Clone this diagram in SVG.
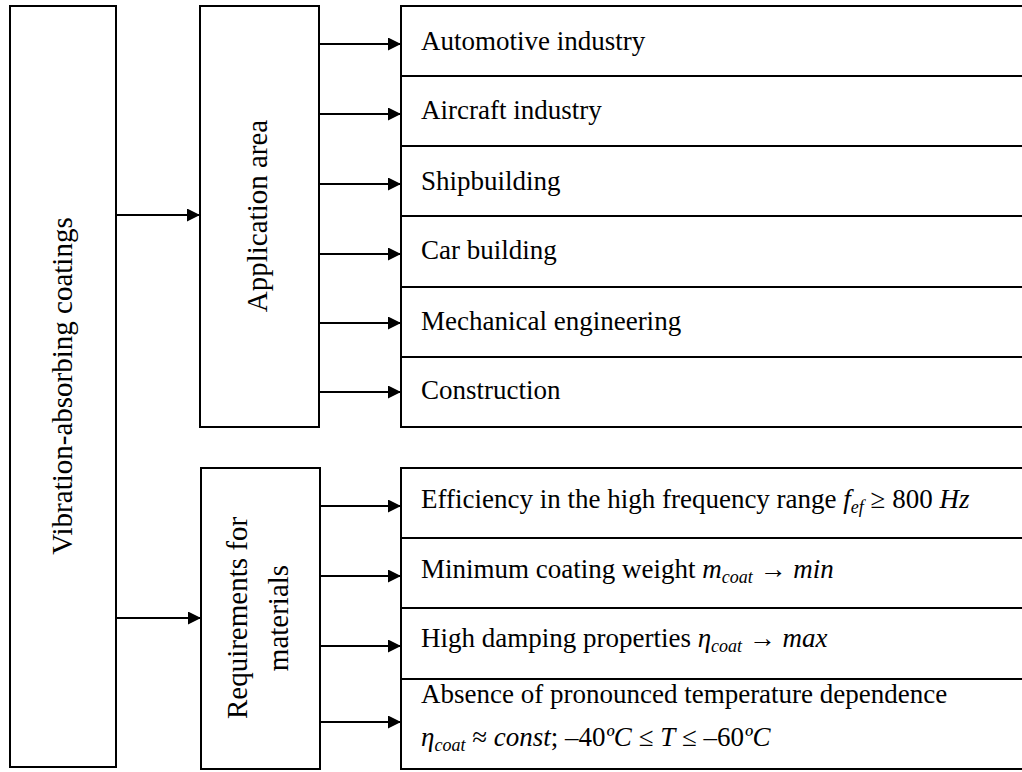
<svg xmlns="http://www.w3.org/2000/svg" width="1022" height="772" viewBox="0 0 1022 772">
<style>
.box{fill:#fff;stroke:#000;stroke-width:2}
.t{font-family:"Liberation Serif","Times New Roman",serif;font-size:27px;fill:#000}
.v{font-family:"Liberation Serif","Times New Roman",serif;font-size:29px;fill:#000;text-anchor:middle}
.i{font-style:italic}
.s{font-size:18px;font-style:italic}
.c{stroke:#000;stroke-width:2;fill:none}
</style>
<defs>
<marker id="ah" viewBox="0 0 13 13" refX="13" refY="6.5" markerWidth="13" markerHeight="13" markerUnits="userSpaceOnUse" orient="auto">
<path d="M0,0 L13,6.5 L0,13 z" fill="#000"/>
</marker>
</defs>
<g id="connectors">
<line class="c" x1="116" y1="215" x2="200" y2="215" marker-end="url(#ah)"/>
<line class="c" x1="116" y1="618" x2="201" y2="618" marker-end="url(#ah)"/>
<line class="c" x1="319" y1="44" x2="401" y2="44" marker-end="url(#ah)"/>
<line class="c" x1="319" y1="114" x2="401" y2="114" marker-end="url(#ah)"/>
<line class="c" x1="319" y1="184" x2="401" y2="184" marker-end="url(#ah)"/>
<line class="c" x1="319" y1="254" x2="401" y2="254" marker-end="url(#ah)"/>
<line class="c" x1="319" y1="323" x2="401" y2="323" marker-end="url(#ah)"/>
<line class="c" x1="319" y1="392" x2="401" y2="392" marker-end="url(#ah)"/>
<line class="c" x1="320" y1="506" x2="401" y2="506" marker-end="url(#ah)"/>
<line class="c" x1="320" y1="576" x2="401" y2="576" marker-end="url(#ah)"/>
<line class="c" x1="320" y1="646" x2="401" y2="646" marker-end="url(#ah)"/>
<line class="c" x1="320" y1="722" x2="401" y2="722" marker-end="url(#ah)"/>
</g>
<g id="vibration">
<rect class="box" x="10" y="6" width="106" height="761"/>
<text class="v" transform="translate(72,386) rotate(-90)">Vibration-absorbing coatings</text>
</g>
<g id="application">
<rect class="box" x="200" y="6" width="119" height="421"/>
<text class="v" transform="translate(267,216) rotate(-90)">Application area</text>
</g>
<g id="requirements">
<rect class="box" x="201" y="468" width="119" height="301"/>
<text class="v" transform="translate(247,618) rotate(-90)">Requirements for</text>
<text class="v" transform="translate(288,618) rotate(-90)">materials</text>
</g>
<g id="automotive"><rect class="box" x="401" y="6" width="640" height="70"/><text class="t" x="421" y="50">Automotive industry</text></g>
<g id="aircraft"><rect class="box" x="401" y="76" width="640" height="70"/><text class="t" x="421" y="119">Aircraft industry</text></g>
<g id="shipbuilding"><rect class="box" x="401" y="146" width="640" height="70"/><text class="t" x="421" y="190">Shipbuilding</text></g>
<g id="carbuilding"><rect class="box" x="401" y="216" width="640" height="71"/><text class="t" x="421" y="259">Car building</text></g>
<g id="mechanical"><rect class="box" x="401" y="287" width="640" height="70"/><text class="t" x="421" y="330">Mechanical engineering</text></g>
<g id="construction"><rect class="box" x="401" y="357" width="640" height="70"/><text class="t" x="421" y="399">Construction</text></g>
<g id="efficiency"><rect class="box" x="401" y="468" width="640" height="70"/><text class="t" x="421" y="508">Efficiency in the high frequency range <tspan class="i">f</tspan><tspan class="s" dy="5">ef</tspan><tspan dy="-5"> ≥ 800 </tspan><tspan class="i">Hz</tspan></text></g>
<g id="weight"><rect class="box" x="401" y="538" width="640" height="70"/><text class="t" x="421" y="578">Minimum coating weight <tspan class="i">m</tspan><tspan class="s" dy="5">coat</tspan><tspan dy="-5"> → </tspan><tspan class="i">min</tspan></text></g>
<g id="damping"><rect class="box" x="401" y="608" width="640" height="71"/><text class="t" x="421" y="647">High damping properties <tspan class="i">η</tspan><tspan class="s" dy="5">coat</tspan><tspan dy="-5"> → </tspan><tspan class="i">max</tspan></text></g>
<g id="temperature"><rect class="box" x="401" y="679" width="640" height="90"/><text class="t" x="421" y="703">Absence of pronounced temperature dependence</text><text class="t" x="421" y="746"><tspan class="i">η</tspan><tspan class="s" dy="5">coat</tspan><tspan dy="-5"> ≈ </tspan><tspan class="i">const</tspan><tspan>; –40</tspan><tspan class="i">ºC</tspan><tspan> ≤ </tspan><tspan class="i">T</tspan><tspan> ≤ –60</tspan><tspan class="i">ºC</tspan></text></g>
</svg>
